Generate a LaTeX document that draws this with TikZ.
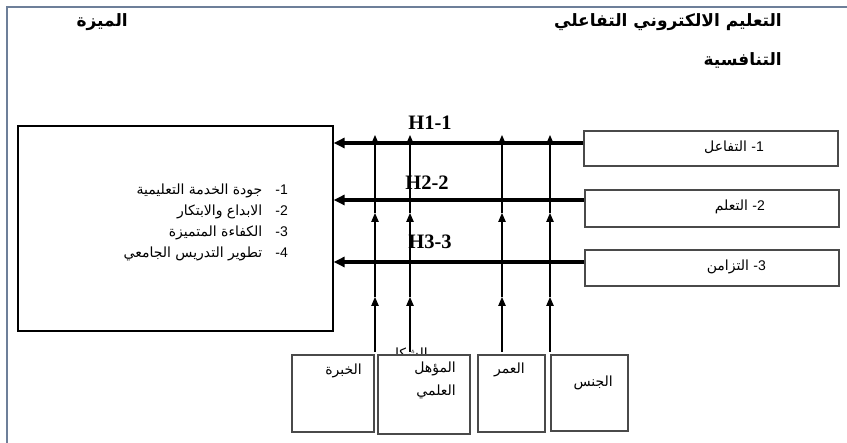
\documentclass[tikz,border=0pt]{standalone}
\usepackage{fontspec}
\setmainfont{Liberation Serif}
\newfontfamily\arfont[Script=Arabic]{DejaVu Sans}
\newfontfamily\numfont{Liberation Sans}
\TeXXeTstate=1
\usetikzlibrary{arrows.meta}
\definecolor{framecol}{HTML}{6D7F99}
\definecolor{boxcol}{HTML}{4A4A4A}
\begin{document}
\begin{tikzpicture}[x=1pt,y=-1pt,
  frameline/.style={draw=framecol, line width=2pt},
  bigbox/.style={draw=black, line width=1.2pt, inner sep=0pt},
  rbox/.style={draw=boxcol, line width=1.5pt, inner sep=0pt, fill=white},
  harrow/.style={line width=3.5pt, -{Triangle[length=11pt,width=10pt]}},
  varrow/.style={line width=1.1pt, -{Triangle[length=9pt,width=7.5pt]}},
  hlabel/.style={font=\fontsize{20.5}{20}\selectfont\bfseries, inner sep=0pt},
  artxt/.style={font=\arfont\fontsize{14}{16}\selectfont, inner sep=0pt},
  artitle/.style={font=\arfont\bfseries\fontsize{17}{19}\selectfont, inner sep=0pt}]
\useasboundingbox (0,0) rectangle (847,443);
% outer frame
\draw[frameline] (7,443) -- (7,7) -- (847,7);
% titles
\node[artitle, anchor=east] (t1) at (782,22) {\beginR التعليم الالكتروني التفاعلي\endR};
\node[artitle, anchor=east] (t2) at (782,60) {\beginR التنافسية\endR};
\node[artitle, anchor=east] (t3) at (128,22) {\beginR الميزة\endR};
% big box
\node[bigbox, minimum width=315pt, minimum height=205pt] (big) at (175.5,228.5) {};
\node[artxt, anchor=east] (l1) at (288,191) {\beginR جودة الخدمة التعليمية\endR\hspace{13pt}{\numfont -1}};
\node[artxt, anchor=east] (l2) at (288,212) {\beginR الابداع والابتكار\endR\hspace{13pt}{\numfont -2}};
\node[artxt, anchor=east] (l3) at (288,233) {\beginR الكفاءة المتميزة\endR\hspace{13pt}{\numfont -3}};
\node[artxt, anchor=east] (l4) at (288,254) {\beginR تطوير التدريس الجامعي\endR\hspace{13pt}{\numfont -4}};
% right boxes
\node[rbox, minimum width=254pt, minimum height=35pt] (r1) at (711,148.5) {};
\node[rbox, minimum width=254pt, minimum height=37pt] (r2) at (712,208.5) {};
\node[rbox, minimum width=254pt, minimum height=36pt] (r3) at (712,268) {};
\node[artxt, anchor=east] (r1t) at (764,147) {\beginR التفاعل\endR\ {\numfont -1}};
\node[artxt, anchor=east] (r2t) at (765,207) {\beginR التعلم\endR\ {\numfont -2}};
\node[artxt, anchor=east] (r3t) at (766,267) {\beginR التزامن\endR\ {\numfont -3}};
% hidden caption fragment
\node[artxt, anchor=base east] (hid) at (428,359) {\beginR الشكل\endR};
% bottom boxes
\node[rbox, minimum width=82pt, minimum height=77pt] (b1) at (333,393.5) {};
\node[rbox, minimum width=92pt, minimum height=79pt] (b2) at (424,394.5) {};
\node[rbox, minimum width=67pt, minimum height=77pt] (b3) at (511.5,393.5) {};
\node[rbox, minimum width=77pt, minimum height=76pt] (b4) at (589.5,393) {};
\node[artxt, anchor=east] (b1t) at (362,371) {\beginR الخبرة\endR};
\node[artxt, anchor=east] (b2t) at (456,369) {\beginR المؤهل\endR};
\node[artxt, anchor=east] (b2u) at (456,392) {\beginR العلمي\endR};
\node[artxt, anchor=east] (b3t) at (525,370) {\beginR العمر\endR};
\node[artxt, anchor=east] (b4t) at (613,383) {\beginR الجنس\endR};
% hypothesis labels
\node[hlabel] (h1) at (430,123) {H1-1};
\node[hlabel] (h2) at (427,183) {H2-2};
\node[hlabel] (h3) at (430,242) {H3-3};
% horizontal arrows
\coordinate (a1s) at (r1.west |- 0,143);
\coordinate (a2s) at (r2.west |- 0,200);
\coordinate (a3s) at (r3.west |- 0,262);
\coordinate (a1e) at (big.east |- 0,143);
\coordinate (a2e) at (big.east |- 0,200);
\coordinate (a3e) at (big.east |- 0,262);
\draw[harrow] (a1s) -- (a1e);
\draw[harrow] (a2s) -- (a2e);
\draw[harrow] (a3s) -- (a3e);
% vertical arrows
\foreach \n/\x in {1/375, 2/410, 3/502, 4/550} {
  \coordinate (v\n a) at (\x,352);
  \coordinate (v\n b) at (\x,297);
  \coordinate (v\n c) at (\x,213);
  \coordinate (v\n d) at (\x,135);
  \draw[varrow] (v\n a) -- (v\n b);
  \draw[varrow] (v\n b) -- (v\n c);
  \draw[varrow] (v\n c) -- (v\n d);
}
\end{tikzpicture}
\end{document}
